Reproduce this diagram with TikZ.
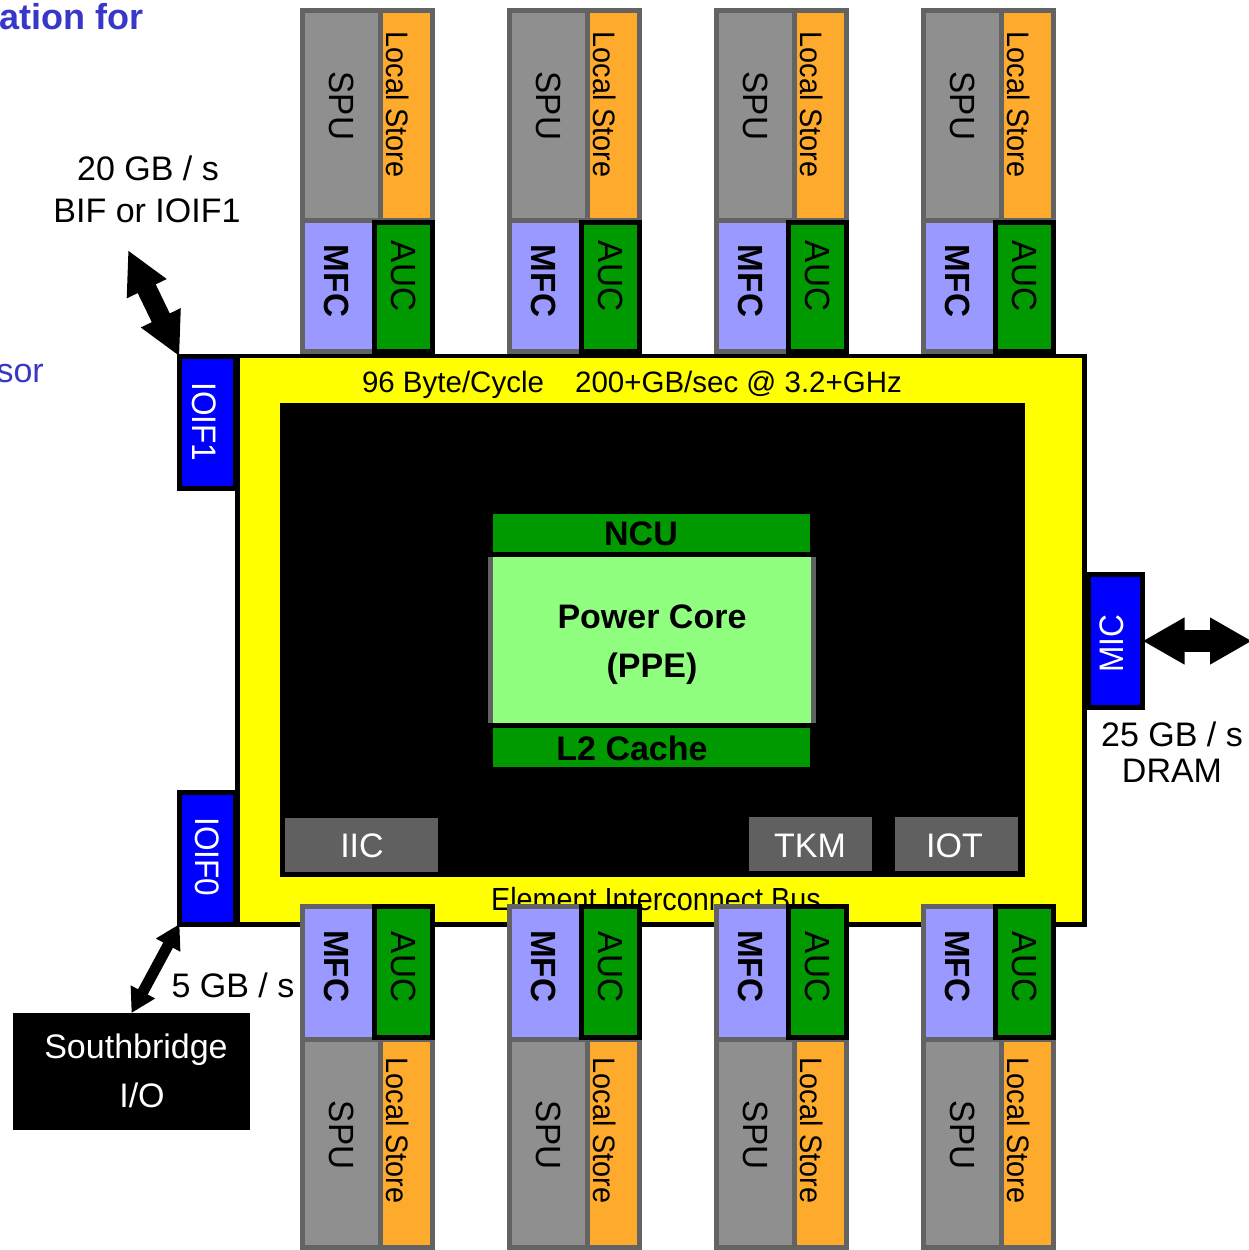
\documentclass[tikz,border=0pt]{standalone}
\usepackage{fontspec}
\setmainfont{Liberation Sans}
\usepackage{graphicx}
\usetikzlibrary{arrows.meta}
\definecolor{spugray}{RGB}{143,143,143}
\definecolor{bordgray}{RGB}{99,99,99}
\definecolor{lsorange}{RGB}{253,170,45}
\definecolor{mfcblue}{RGB}{153,153,255}
\definecolor{aucgreen}{RGB}{0,153,0}
\definecolor{pcgreen}{RGB}{144,255,128}
\definecolor{eibyellow}{RGB}{255,255,0}
\definecolor{ioblue}{RGB}{0,0,255}
\definecolor{unitgray}{RGB}{96,96,96}
\definecolor{titleblue}{RGB}{56,56,200}
\newcommand\myfs[1]{\fontsize{#1}{#1}\selectfont}
\newcommand\bx[6]{\node[box,#6,minimum width={(#4)-(#2)},minimum height={(#5)-(#3)}] (#1) at (#2,#3) {};}
\newcommand\sx[2]{\scalebox{#1}[1]{#2}}
\newcommand\topspe[2]{%
  \bx{spuA#1}{#2+2.5}{10.5}{#2+80}{220}{fill=spugray,draw=bordgray}
  \bx{lsA#1}{#2+80}{10.5}{#2+132}{220}{fill=lsorange,draw=bordgray}
  \bx{mfcA#1}{#2+2.5}{220}{#2+74}{351}{fill=mfcblue,draw=bordgray}
  \bx{aucA#1}{#2+74.5}{222.5}{#2+132}{351}{fill=aucgreen,draw=black}
  \node[rt,font=\myfs{35}] (spuAt#1) at (#2+41.5,106) {\sx{0.95}{SPU}};
  \node[rt,font=\myfs{31}] (lsAt#1) at (#2+98,104.5) {\sx{0.93}{Local Store}};
  \node[rt,font=\myfs{35}\bfseries] (mfcAt#1) at (#2+36.5,281) {\sx{0.95}{MFC}};
  \node[rt,font=\myfs{35}] (aucAt#1) at (#2+103.5,276) {\sx{0.95}{AUC}};
}
\newcommand\botspe[2]{%
  \bx{spuB#1}{#2+2.5}{1039}{#2+80}{1247.5}{fill=spugray,draw=bordgray}
  \bx{lsB#1}{#2+80}{1039}{#2+132}{1247.5}{fill=lsorange,draw=bordgray}
  \bx{mfcB#1}{#2+2.5}{906}{#2+74}{1039}{fill=mfcblue,draw=bordgray}
  \bx{aucB#1}{#2+74.5}{906}{#2+132}{1037.5}{fill=aucgreen,draw=black}
  \node[rt,font=\myfs{35}] (spuBt#1) at (#2+41.5,1135) {\sx{0.95}{SPU}};
  \node[rt,font=\myfs{31}] (lsBt#1) at (#2+98,1130.5) {\sx{0.93}{Local Store}};
  \node[rt,font=\myfs{35}\bfseries] (mfcBt#1) at (#2+36.5,966) {\sx{0.95}{MFC}};
  \node[rt,font=\myfs{35}] (aucBt#1) at (#2+103.5,967) {\sx{0.95}{AUC}};
}
\begin{document}
\begin{tikzpicture}[x=1pt,y=-1pt,
  box/.style={rectangle,inner sep=0pt,outer sep=0pt,line width=5pt,anchor=north west},
  rt/.style={rotate=-90,inner sep=0pt,outer sep=0pt},
  lbl/.style={inner sep=0pt,outer sep=0pt,anchor=base,font=\myfs{34}},
  blockarrow/.style={line width=#1pt},
]
\useasboundingbox (0,0) rectangle (1249,1250);
\fill[white] (0,0) rectangle (1249,1250);

% clipped title fragments
\node[inner sep=0pt,anchor=base west,font=\myfs{36}\bfseries,text=titleblue] (title) at (-1,29) {ation for};
\node[inner sep=0pt,anchor=base east,font=\myfs{34},text=titleblue] (sub) at (44,382) {sor};

% top SPEs
\topspe{1}{300}
\topspe{2}{507}
\topspe{3}{714}
\topspe{4}{921}

% EIB frame
\bx{eib}{237.5}{356}{1084.5}{924.5}{fill=eibyellow,draw=black,line width=4.5pt}
\bx{ioif1}{179.5}{356.5}{235}{488.5}{fill=ioblue,draw=black}
\bx{ioif0}{179.5}{792.5}{235}{924}{fill=ioblue,draw=black}
\bx{mic}{1088.5}{574.5}{1142.5}{707.5}{fill=ioblue,draw=black}
\node[rt,font=\myfs{34},text=white] (ioif1t) at (204,422) {\sx{0.93}{IOIF1}};
\node[rt,font=\myfs{34},text=white] (ioif0t) at (207,857) {\sx{0.93}{IOIF0}};
\node[rotate=90,inner sep=0pt,font=\myfs{34},text=white] (mict) at (1112,644) {\sx{0.93}{MIC}};

% inner black area
\bx{core}{280}{403}{1025}{877}{fill=black}
\bx{ncu}{493}{514}{810}{552}{fill=aucgreen}
\bx{pc}{490.5}{554.5}{813.5}{725.5}{fill=pcgreen,draw=bordgray}
\draw[black,line width=5pt,line cap=rect] (pc.north west) -- (pc.north east);
\draw[black,line width=5pt,line cap=rect] (pc.south west) -- (pc.south east);
\bx{l2}{493}{728}{810}{767}{fill=aucgreen}
\node[lbl,font=\myfs{34}\bfseries] (ncut) at (641,545) {NCU};
\node[lbl,font=\myfs{34}\bfseries] (pct1) at (652,628) {Power Core};
\node[lbl,font=\myfs{34}\bfseries] (pct2) at (652,677) {(PPE)};
\node[lbl,font=\myfs{34}\bfseries] (l2t) at (632,760) {L2 Cache};
\bx{iic}{285}{818}{438}{872}{fill=unitgray}
\bx{tkm}{749}{817}{872}{871}{fill=unitgray}
\bx{iot}{895}{817}{1018}{871}{fill=unitgray}
\node[lbl,text=white] (iict) at (362,857) {IIC};
\node[lbl,text=white] (tkmt) at (810,857) {TKM};
\node[lbl,text=white] (iott) at (954.5,857) {IOT};

% bus labels
\node[lbl,font=\myfs{29.5}] (bw1) at (453,392) {96 Byte/Cycle};
\node[lbl,font=\myfs{29.5}] (bw2) at (738.5,392) {200+GB/sec @ 3.2+GHz};
\node[lbl,font=\myfs{32}] (eibt) at (656,910) {\sx{0.9}{Element Interconnect Bus}};

% bottom SPEs
\botspe{1}{300}
\botspe{2}{507}
\botspe{3}{714}
\botspe{4}{921}

% Southbridge
\bx{sb}{13}{1013}{250}{1130}{fill=black}
\node[lbl,text=white] (sbt1) at (136,1058) {Southbridge};
\node[lbl,text=white] (sbt2) at (142,1107) {I/O};

% arrows
\coordinate (bifend) at (128,250);
\coordinate (dramend) at (1252,641);
\draw[line width=20pt,{Triangle[length=43pt,width=41pt]}-{Triangle[length=43pt,width=41pt]}] (bifend) -- (ioif1.north west);
\draw[line width=11pt,{Triangle[length=24pt,width=26pt]}-{Triangle[length=24pt,width=26pt]}] (sb.north) -- (ioif0.south west);
\draw[line width=22pt,{Triangle[length=42pt,width=44pt]}-{Triangle[length=42pt,width=44pt]}] (mic.east) -- (dramend);

% labels
\node[lbl] (bif1) at (148,180) {20 GB / s};
\node[lbl] (bif2) at (147,222) {BIF or IOIF1};
\node[lbl] (dram1) at (1172,746) {25 GB / s};
\node[lbl] (dram2) at (1172,782) {DRAM};
\node[lbl] (sbbw) at (233,997) {5 GB / s};
\end{tikzpicture}
\end{document}
